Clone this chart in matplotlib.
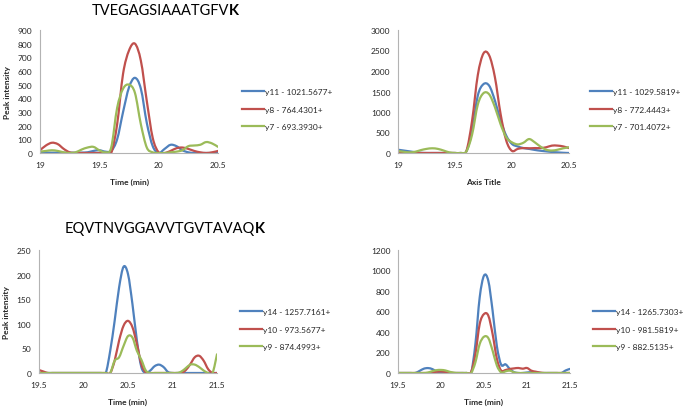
import numpy as np
import matplotlib
matplotlib.use('Agg')
import matplotlib.pyplot as plt
from matplotlib.path import Path
from matplotlib.patches import PathPatch
from matplotlib.lines import Line2D

plt.rcParams['font.family'] = ['Lato', 'DejaVu Sans']

BLUE = '#4F81BD'
RED = '#C0504D'
GREEN = '#9BBB59'
AXIS_GREY = '#B3B3B3'
TEXT = '#262626'

# sampling grid of the chromatograms (min)
time_top = np.round(np.arange(19.0, 20.5001, 0.05), 2)
time_bottom = np.round(np.arange(19.5, 21.5001, 0.05), 2)

# TVEGAGSIAAATGFVK, left panel
y11_a = [5, 3, 2, 2, 2, 2, 2, 3, 5, 15, 20, 10, 15, 100, 300, 480, 550, 470, 220, 50,
         0, 30, 60, 50, 20, 5, 0, 0, 0, 0, 0]
y8_a = [20, 55, 75, 65, 30, 5, 0, 0, 0, 0, 0, 0, 0, 210, 580, 750, 800, 675, 380, 110,
        5, 0, 15, 35, 40, 30, 15, 5, 0, 5, 15]
y7_a = [10, 15, 20, 15, 5, 0, 5, 25, 40, 45, 20, 5, 40, 330, 470, 500, 440, 210, 40, 5,
        0, 0, 5, 10, 20, 50, 55, 60, 80, 70, 45]
labels_a = ['y11 - 1021.5677+', 'y8 - 764.4301+', 'y7 - 693.3930+']

# TVEGAGSIAAATGFVK, right panel
y11_b = [80, 60, 40, 20, 5, 0, 0, 0, 0, 0, 0, 0, 40, 550, 1400, 1680, 1640, 1280, 790, 420,
         220, 160, 120, 100, 75, 55, 40, 25, 15, 5, 0]
y8_b = [10, 5, 0, 0, 0, 0, 0, 0, 0, 0, 0, 0, 50, 790, 1900, 2430, 2380, 1850, 950, 300,
        50, 100, 120, 115, 120, 120, 140, 180, 180, 160, 120]
y7_b = [50, 30, 15, 30, 70, 100, 115, 100, 60, 15, 0, 0, 40, 450, 1180, 1460, 1430, 1120, 700, 380,
        260, 210, 250, 340, 260, 155, 80, 60, 80, 115, 140]
labels_b = ['y11 - 1029.5819+', 'y8 - 772.4443+', 'y7 - 701.4072+']

# EQVTNVGGAVVTGVTAVAQK, left panel
y14_c = [0, 0, 0, 0, 0, 0, 0, 0, 0, 0, 0, 0, 0, 0, 0, 0,
         45, 106, 174, 216, 201, 140, 66, 12, 0, 5, 14, 17, 12, 2, 0,
         0, 0, 0, 0, 0, 0, 0, 0, 0, 0]
y10_c = [6, 3, 0, 0, 0, 0, 0, 0, 0, 0, 0, 0, 0, 0, 0, 0, 0,
         25, 66, 96, 106, 93, 59, 18, 1,
         0, 0, 0, 0, 0, 0, 0, 0,
         6, 18, 32, 35, 25, 8, 0, 0]
y9_c = [0, 0, 0, 0, 0, 0, 0, 0, 0, 0, 0, 0, 0, 0, 0, 0, 0,
        25, 32, 55, 75, 72, 45, 27, 5,
        0, 0, 0, 0, 0, 0, 0,
        3, 10, 17, 17, 12, 5, 0, 0, 38]
labels_c = ['y14 - 1257.7161+', 'y10 - 973.5677+', 'y9 - 874.4993+']

# EQVTNVGGAVVTGVTAVAQK, right panel
y14_d = [0, 0, 0, 0, 0, 20, 42, 48, 38, 15, 3,
         0, 0, 0, 0, 0, 0, 0,
         283, 738, 950, 900, 608, 260, 80, 85, 40, 8, 0, 0, 5, 8, 5,
         0, 0, 0, 0, 0, 0, 25, 40]
y10_d = [0, 0, 0, 0, 0, 0, 0, 0, 5, 12, 15, 10, 5,
         0, 0, 0, 0,
         10, 185, 478, 575, 560, 380, 137, 23, 29, 39, 45, 49, 42, 49, 23, 13, 5,
         0, 0, 0, 0, 0, 0, 0]
y9_d = [0, 0, 0, 0, 0, 0, 0, 5, 18, 28, 30, 25, 12, 3,
        0, 0, 0, 0,
        104, 283, 354, 341, 218, 72, 6, 16, 23, 6,
        0, 0, 0, 0, 0, 0, 0, 0, 0, 0, 0, 0, 0]
labels_d = ['y14 - 1265.7303+', 'y10 - 981.5819+', 'y9 - 882.5135+']

xticks_top = [19, 19.5, 20, 20.5]
xticks_bottom = [19.5, 20, 20.5, 21, 21.5]


def smooth_path(x, y):
    # Excel-like smoothed line: Catmull-Rom segments as cubic Bezier curves
    pts = np.column_stack([x, y]).astype(float)
    n = len(pts)
    verts = [pts[0]]
    codes = [Path.MOVETO]
    for i in range(n - 1):
        p0 = pts[i - 1] if i > 0 else pts[i]
        p1 = pts[i]
        p2 = pts[i + 1]
        p3 = pts[i + 2] if i + 2 < n else pts[i + 1]
        verts += [p1 + (p2 - p0) / 6, p2 - (p3 - p1) / 6, p2]
        codes += [Path.CURVE4] * 3
    return Path(verts, codes)


def draw_panel(fig, rect, t, series, labels, xticks, ymax, ystep,
               xlabel, ylabel, legend_at):
    ax = fig.add_axes(rect)
    for values, color in zip(series, [BLUE, RED, GREEN]):
        ax.add_patch(PathPatch(smooth_path(t, values), fill=False, edgecolor=color,
                               lw=1.6, joinstyle='round', capstyle='round'))
    ax.set_xlim(xticks[0], xticks[-1])
    ax.set_ylim(0, ymax)
    ax.set_xticks(xticks)
    ax.set_xticklabels([f'{v:g}' for v in xticks])
    ax.set_yticks(np.arange(0, ymax + 1, ystep))
    for side in ['top', 'right']:
        ax.spines[side].set_visible(False)
    for side in ['left', 'bottom']:
        ax.spines[side].set_color(AXIS_GREY)
        ax.spines[side].set_linewidth(0.8)
    ax.tick_params(length=0, labelsize=6, colors=TEXT, pad=5.5)
    ax.set_xlabel(xlabel, fontsize=6, fontweight='bold', color=TEXT)
    ax.xaxis.set_label_coords(0.5, -0.2)
    if ylabel:
        ax.set_ylabel(ylabel, fontsize=6, fontweight='bold', color=TEXT)
        ax.yaxis.set_label_coords(-0.165, 0.5)

    handles = [Line2D([], [], color=c, lw=1.6) for c in [BLUE, RED, GREEN]]
    ax.legend(handles, labels, loc='center left', bbox_to_anchor=legend_at,
              bbox_transform=fig.transFigure, frameon=False, fontsize=6,
              handlelength=2.6, handletextpad=0.15, labelspacing=1.25,
              borderpad=0, borderaxespad=0, labelcolor=TEXT)
    return ax


def draw_title(fig, x, y, text, bold_tail):
    t = fig.text(x, y, text, fontsize=10.5, ha='left', va='center', color='black')
    fig.text(0, 0, '')
    ann = plt.annotate(bold_tail, xy=(1, 0), xycoords=t, fontsize=10.5,
                       fontweight='bold', ha='left', va='bottom', color='black')
    return ann


def main():
    W, H = 686, 410
    fig = plt.figure(figsize=(W / 100, H / 100), dpi=100)

    def rect(left, right, top, bottom):
        return [left / W, 1 - bottom / H, (right - left) / W, (bottom - top) / H]

    draw_panel(fig, rect(40, 218, 31, 154), time_top, [y11_a, y8_a, y7_a], labels_a,
               xticks_top, 900, 100, 'Time (min)', 'Peak intensity', (242 / W, 1 - 110 / H))
    draw_panel(fig, rect(398, 569, 31, 154), time_top, [y11_b, y8_b, y7_b], labels_b,
               xticks_top, 3000, 500, 'Axis Title', None, (590 / W, 1 - 110 / H))
    draw_panel(fig, rect(39, 217, 251, 374), time_bottom, [y14_c, y10_c, y9_c], labels_c,
               xticks_bottom, 250, 50, 'Time (min)', 'Peak intensity', (240 / W, 1 - 330 / H))
    draw_panel(fig, rect(398, 570, 251, 374), time_bottom, [y14_d, y10_d, y9_d], labels_d,
               xticks_bottom, 1200, 200, 'Time (min)', None, (593 / W, 1 - 330 / H))

    draw_title(fig, 92 / W, 1 - 11 / H, 'TVEGAGSIAAATGFV', 'K')
    draw_title(fig, 65 / W, 1 - 229 / H, 'EQVTNVGGAVVTGVTAVAQ', 'K')

    fig.savefig('out.png', dpi=100)


if __name__ == '__main__':
    main()
